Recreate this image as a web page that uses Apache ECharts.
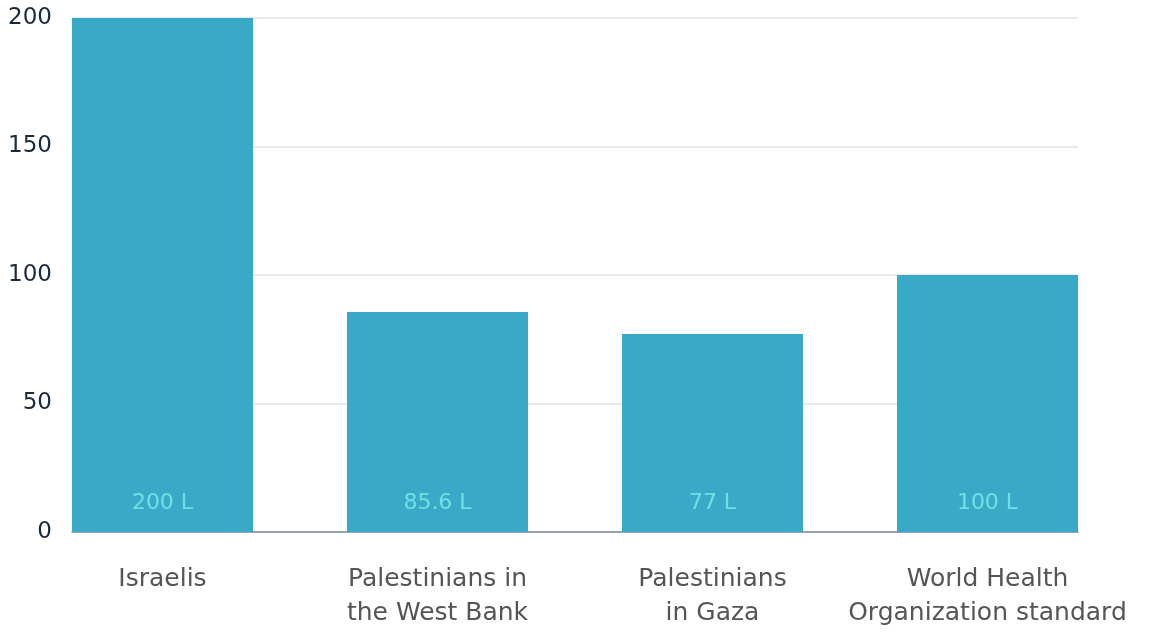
<!DOCTYPE html>
<html><head><meta charset="utf-8">
<script src="https://cdn.jsdelivr.net/npm/echarts@6/dist/echarts.min.js"></script>
<style>html,body{margin:0;padding:0;background:#fff}#c{width:1153px;height:632px}</style>
</head><body><div id="c"></div>
<script>
const categories = ["Israelis", "Palestinians in\nthe West Bank", "Palestinians\nin Gaza", "World Health\nOrganization standard"];
const values = [200, 85.6, 77, 100];
const valueLabels = ["200 L", "85.6 L", "77 L", "100 L"];
const yTicks = [0, 50, 100, 150, 200];

const FONT = "DejaVu Sans";
const chart = echarts.init(document.getElementById('c'));
chart.setOption({
  animation: false,
  grid: [
    {left: 72, right: 75, top: 18, bottom: 100},
    {left: 25, right: 28, top: 18, bottom: 100}
  ],
  xAxis: [
    {type: 'category', gridIndex: 0, data: categories, axisLabel: {show: false}, axisTick: {show: false},
     axisLine: {show: true, lineStyle: {color: '#7b8c9a', width: 1.5}}},
    {type: 'category', gridIndex: 1, data: categories, axisTick: {show: false}, axisLine: {show: false},
     axisLabel: {interval: 0, color: '#555555', fontFamily: FONT, fontSize: 25, lineHeight: 34, margin: 30}}
  ],
  yAxis: [
    {type: 'value', gridIndex: 0, min: 0, max: 200, interval: 50,
     axisLine: {show: false}, axisTick: {show: false},
     axisLabel: {color: '#1b2a3a', fontFamily: FONT, fontSize: 23, margin: 20,
       formatter: v => yTicks.includes(v) ? String(v) : ''},
     splitLine: {show: true, lineStyle: {color: '#dfe2e7', width: 1.5}}},
    {type: 'value', gridIndex: 1, min: 0, max: 200, interval: 50, show: false, splitLine: {show: false}}
  ],
  series: [{
    type: 'bar', xAxisIndex: 1, yAxisIndex: 1, data: values, barWidth: 181,
    itemStyle: {color: '#38aac8'},
    label: {show: true, position: 'insideBottom', distance: 18, color: '#6fe0e2', fontFamily: FONT, fontSize: 22,
      formatter: p => valueLabels[p.dataIndex]}
  }]
});
</script></body></html>
